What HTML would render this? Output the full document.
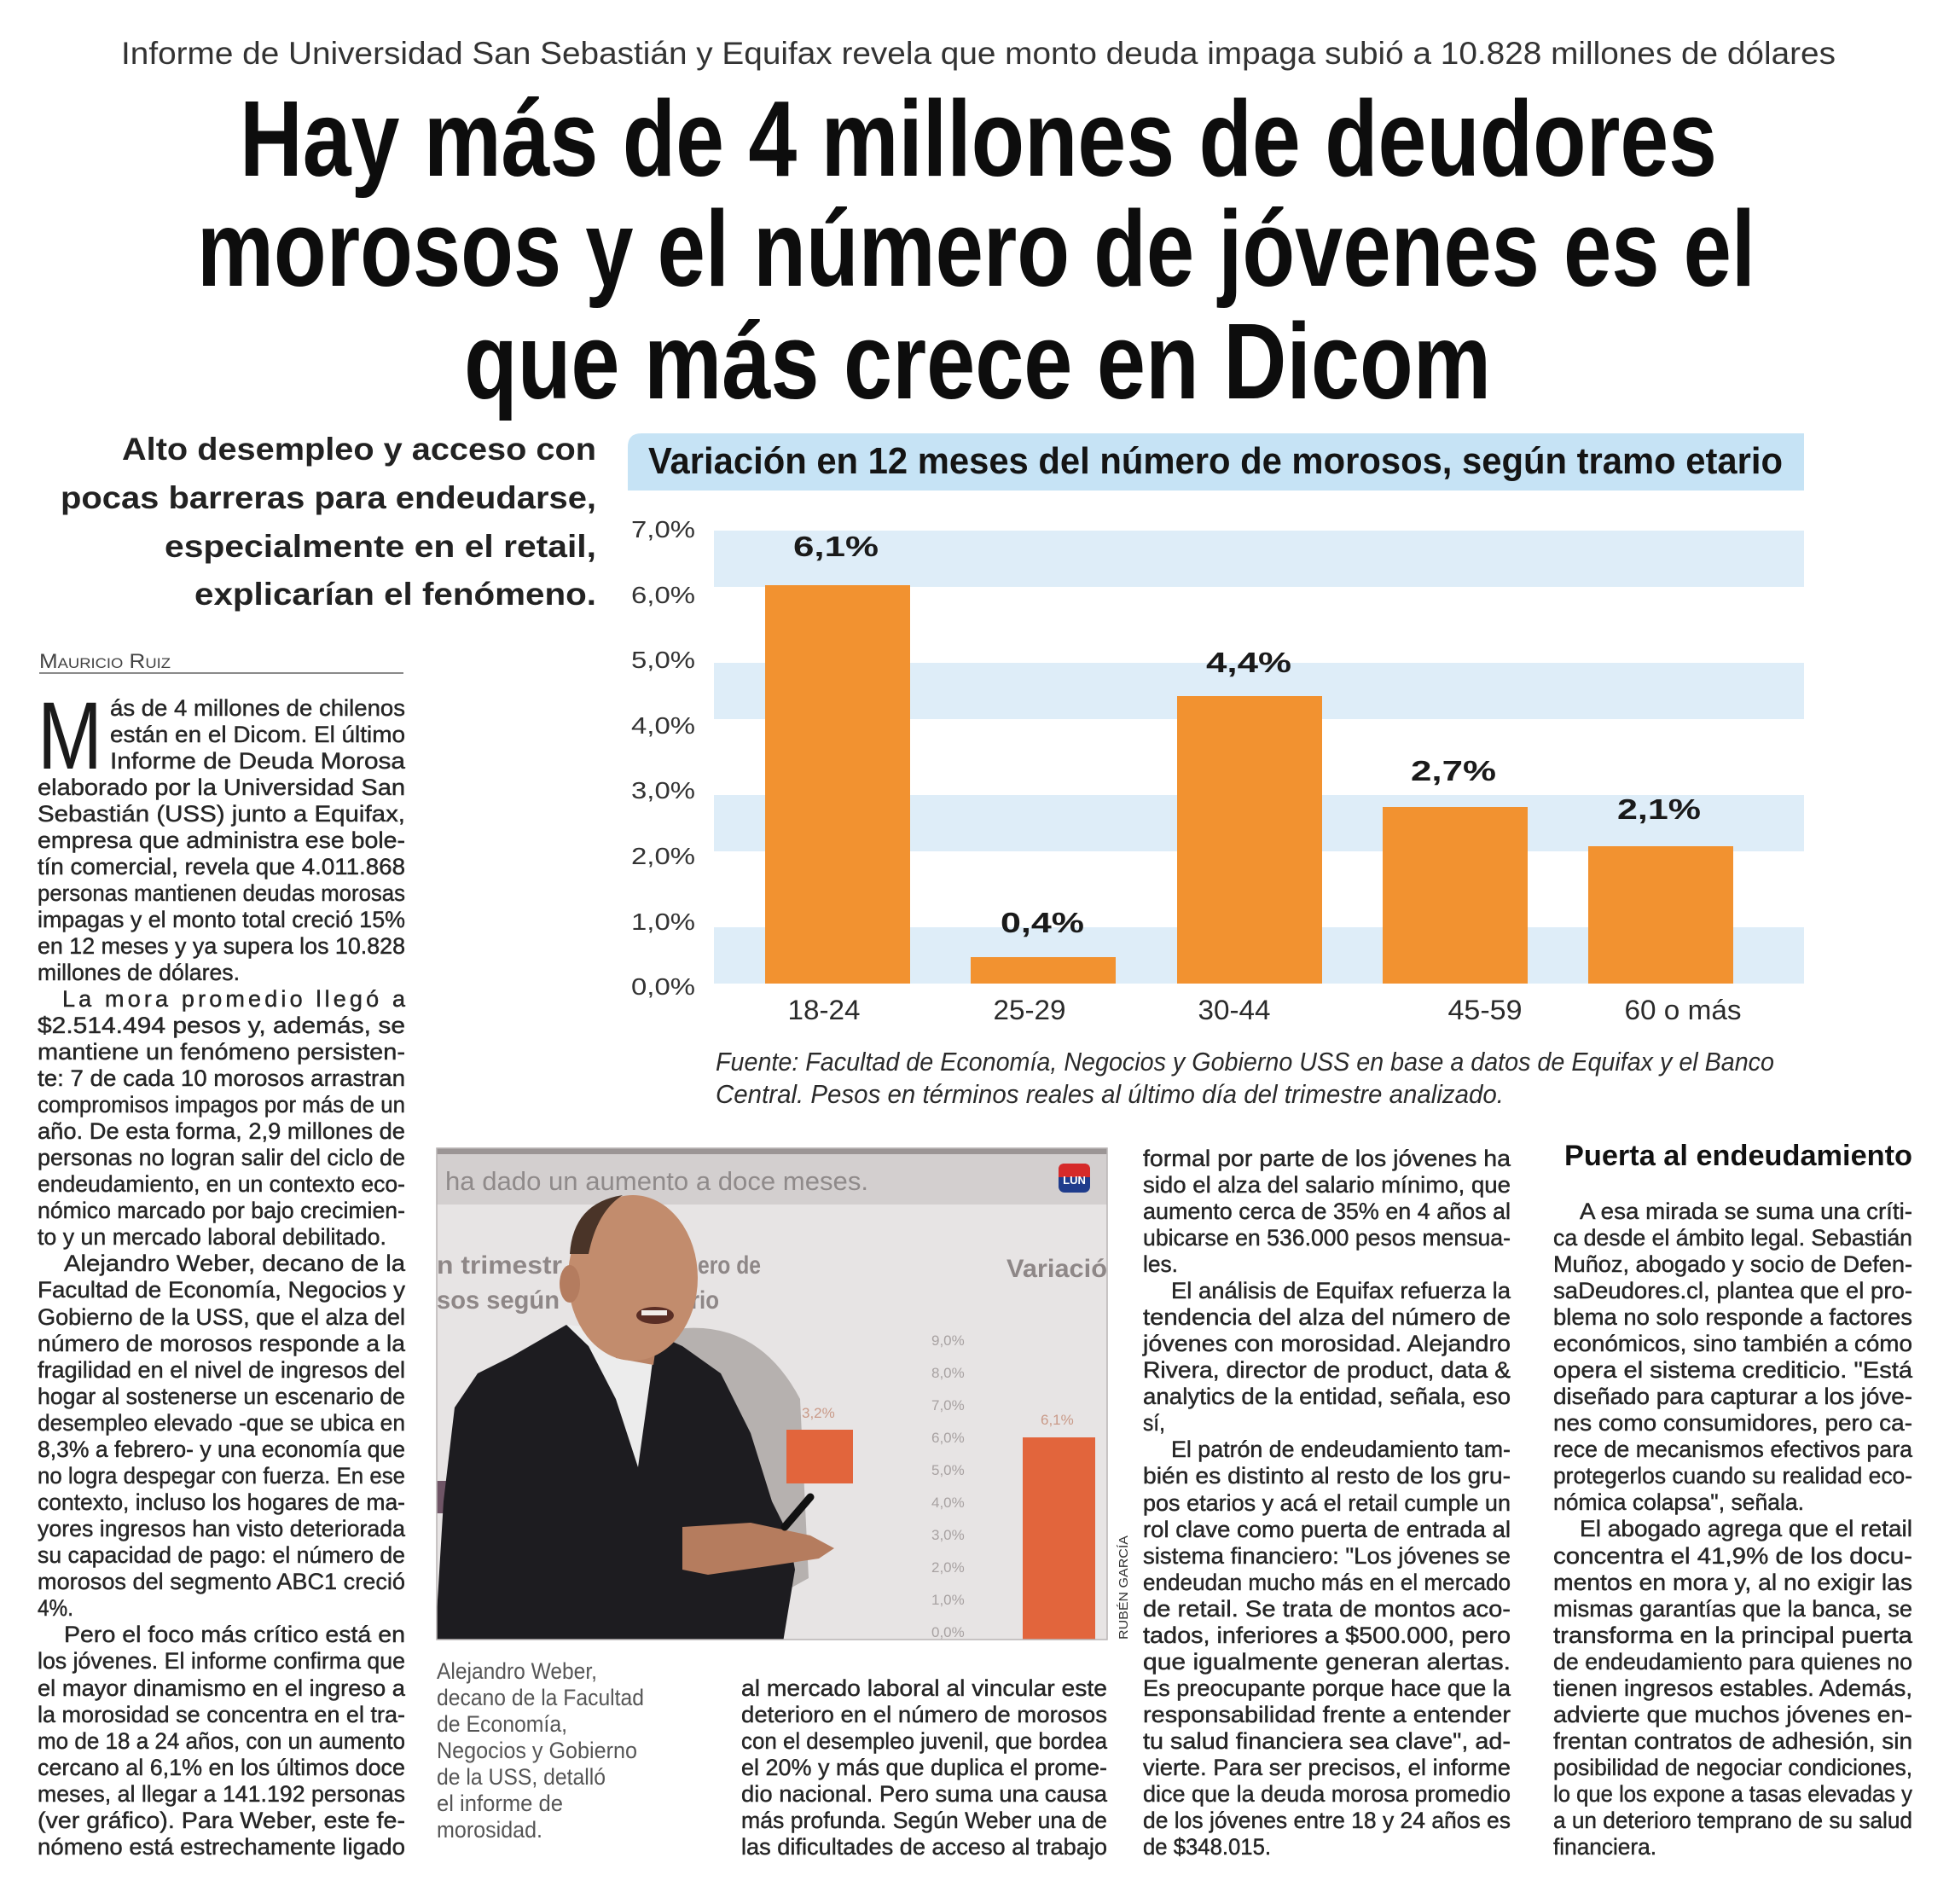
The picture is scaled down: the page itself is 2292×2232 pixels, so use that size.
<!DOCTYPE html>
<html><head><meta charset="utf-8">
<style>
html,body{margin:0;padding:0;background:#fff;}
svg{display:block;}
.t{font-family:"Liberation Sans",sans-serif;fill:#262626;stroke:#262626;stroke-width:0.45px;font-size:27px;}
.c{font-family:"Liberation Sans",sans-serif;fill:#555;font-size:27px;}
.hl{font-family:"Liberation Sans",sans-serif;font-weight:bold;fill:#0d0d0d;font-size:126px;}
.dk{font-family:"Liberation Sans",sans-serif;font-weight:bold;fill:#222;font-size:37px;}
.yl{font-family:"Liberation Sans",sans-serif;fill:#333;font-size:28px;}
.vl{font-family:"Liberation Sans",sans-serif;font-weight:bold;fill:#1a1a1a;font-size:33px;}
.cl{font-family:"Liberation Sans",sans-serif;fill:#2a2a2a;font-size:32px;}
.src{font-family:"Liberation Sans",sans-serif;font-style:italic;fill:#2a2a2a;font-size:31px;}
</style></head>
<body>
<svg width="2292" height="2232" viewBox="0 0 2292 2232" xmlns="http://www.w3.org/2000/svg">
<rect width="2292" height="2232" fill="#fff"/>

<!-- Subheadline -->
<text x="142" y="75" font-family="Liberation Sans, sans-serif" font-size="37" fill="#333" textLength="2010" lengthAdjust="spacingAndGlyphs">Informe de Universidad San Sebastián y Equifax revela que monto deuda impaga subió a 10.828 millones de dólares</text>

<!-- Headline -->
<text class="hl" x="281" y="206" textLength="1732" lengthAdjust="spacingAndGlyphs">Hay más de 4 millones de deudores</text>
<text class="hl" x="231" y="335" textLength="1827" lengthAdjust="spacingAndGlyphs">morosos y el número de jóvenes es el</text>
<text class="hl" x="544" y="467" textLength="1204" lengthAdjust="spacingAndGlyphs">que más crece en Dicom</text>

<!-- Deck -->
<text class="dk" x="143" y="539" textLength="556" lengthAdjust="spacingAndGlyphs">Alto desempleo y acceso con</text>
<text class="dk" x="71" y="596" textLength="628" lengthAdjust="spacingAndGlyphs">pocas barreras para endeudarse,</text>
<text class="dk" x="193" y="653" textLength="506" lengthAdjust="spacingAndGlyphs">especialmente en el retail,</text>
<text class="dk" x="228" y="709" textLength="471" lengthAdjust="spacingAndGlyphs">explicarían el fenómeno.</text>

<!-- Chart title bar -->
<path d="M736,575 L736,524 Q736,508 752,508 L2115,508 L2115,575 Z" fill="#c6e3f5"/>
<text x="760" y="555" font-family="Liberation Sans, sans-serif" font-weight="bold" font-size="44" fill="#141414" textLength="1330" lengthAdjust="spacingAndGlyphs">Variación en 12 meses del número de morosos, según tramo etario</text>

<!-- Bands -->
<g fill="#deedf8">
<rect x="837" y="622" width="1278" height="66"/>
<rect x="837" y="777" width="1278" height="66"/>
<rect x="837" y="932" width="1278" height="66"/>
<rect x="837" y="1087" width="1278" height="66"/>
</g>

<!-- Y labels -->
<g class="yl" text-anchor="end">
<text x="815" y="630" textLength="75" lengthAdjust="spacingAndGlyphs">7,0%</text>
<text x="815" y="707" textLength="75" lengthAdjust="spacingAndGlyphs">6,0%</text>
<text x="815" y="783" textLength="75" lengthAdjust="spacingAndGlyphs">5,0%</text>
<text x="815" y="860" textLength="75" lengthAdjust="spacingAndGlyphs">4,0%</text>
<text x="815" y="936" textLength="75" lengthAdjust="spacingAndGlyphs">3,0%</text>
<text x="815" y="1013" textLength="75" lengthAdjust="spacingAndGlyphs">2,0%</text>
<text x="815" y="1090" textLength="75" lengthAdjust="spacingAndGlyphs">1,0%</text>
<text x="815" y="1166" textLength="75" lengthAdjust="spacingAndGlyphs">0,0%</text>
</g>

<!-- Bars -->
<g fill="#f29230">
<rect x="897" y="686" width="170" height="467"/>
<rect x="1138" y="1122" width="170" height="31"/>
<rect x="1380" y="816" width="170" height="337"/>
<rect x="1621" y="946" width="170" height="207"/>
<rect x="1862" y="992" width="170" height="161"/>
</g>

<!-- Value labels -->
<g class="vl" text-anchor="middle">
<text x="980" y="652" textLength="100" lengthAdjust="spacingAndGlyphs">6,1%</text>
<text x="1222" y="1093" textLength="98" lengthAdjust="spacingAndGlyphs">0,4%</text>
<text x="1464" y="788" textLength="100" lengthAdjust="spacingAndGlyphs">4,4%</text>
<text x="1704" y="915" textLength="100" lengthAdjust="spacingAndGlyphs">2,7%</text>
<text x="1945" y="960" textLength="98" lengthAdjust="spacingAndGlyphs">2,1%</text>
</g>

<!-- Category labels -->
<g class="cl" text-anchor="middle">
<text x="966" y="1195" textLength="85" lengthAdjust="spacingAndGlyphs">18-24</text>
<text x="1207" y="1195" textLength="85" lengthAdjust="spacingAndGlyphs">25-29</text>
<text x="1447" y="1195" textLength="85" lengthAdjust="spacingAndGlyphs">30-44</text>
<text x="1741" y="1195" textLength="87" lengthAdjust="spacingAndGlyphs">45-59</text>
<text x="1973" y="1195" textLength="137" lengthAdjust="spacingAndGlyphs">60 o más</text>
</g>

<!-- Source -->
<text class="src" x="839" y="1255" textLength="1241" lengthAdjust="spacingAndGlyphs">Fuente: Facultad de Economía, Negocios y Gobierno USS en base a datos de Equifax y el Banco</text>
<text class="src" x="839" y="1293" textLength="924" lengthAdjust="spacingAndGlyphs">Central. Pesos en términos reales al último día del trimestre analizado.</text>

<!-- Byline -->
<text x="46" y="783" font-family="Liberation Sans, sans-serif" fill="#444" font-size="24" textLength="154" lengthAdjust="spacingAndGlyphs">M<tspan font-size="17">AURICIO</tspan> R<tspan font-size="17">UIZ</tspan></text>
<rect x="46" y="788" width="427" height="2" fill="#8a8a8a"/>

<!-- Drop cap -->
<text x="44" y="901" font-family="Liberation Sans, sans-serif" font-size="112" fill="#1a1a1a" textLength="76" lengthAdjust="spacingAndGlyphs">M</text>

<!-- Column 1 -->
<g class="t">
<text x="129" y="839" textLength="346" lengthAdjust="spacingAndGlyphs">ás de 4 millones de chilenos</text>
<text x="129" y="870" textLength="346" lengthAdjust="spacingAndGlyphs">están en el Dicom. El último</text>
<text x="129" y="901" textLength="346" lengthAdjust="spacingAndGlyphs">Informe de Deuda Morosa</text>
<text x="44" y="932" textLength="431" lengthAdjust="spacingAndGlyphs">elaborado por la Universidad San</text>
<text x="44" y="963" textLength="431" lengthAdjust="spacingAndGlyphs">Sebastián (USS) junto a Equifax,</text>
<text x="44" y="994" textLength="431" lengthAdjust="spacingAndGlyphs">empresa que administra ese bole-</text>
<text x="44" y="1025" textLength="431" lengthAdjust="spacingAndGlyphs">tín comercial, revela que 4.011.868</text>
<text x="44" y="1056" textLength="431" lengthAdjust="spacingAndGlyphs">personas mantienen deudas morosas</text>
<text x="44" y="1087" textLength="431" lengthAdjust="spacingAndGlyphs">impagas y el monto total creció 15%</text>
<text x="44" y="1118" textLength="431" lengthAdjust="spacingAndGlyphs">en 12 meses y ya supera los 10.828</text>
<text x="44" y="1149" textLength="237" lengthAdjust="spacingAndGlyphs">millones de dólares.</text>
<text x="73" y="1180" textLength="402" lengthAdjust="spacing">La mora promedio llegó a</text>
<text x="44" y="1211" textLength="431" lengthAdjust="spacingAndGlyphs">$2.514.494 pesos  y, además, se</text>
<text x="44" y="1242" textLength="431" lengthAdjust="spacingAndGlyphs">mantiene un fenómeno persisten-</text>
<text x="44" y="1273" textLength="431" lengthAdjust="spacingAndGlyphs">te: 7 de cada 10 morosos arrastran</text>
<text x="44" y="1304" textLength="431" lengthAdjust="spacingAndGlyphs">compromisos impagos por más de un</text>
<text x="44" y="1335" textLength="431" lengthAdjust="spacingAndGlyphs">año. De esta forma, 2,9 millones de</text>
<text x="44" y="1366" textLength="431" lengthAdjust="spacingAndGlyphs">personas no logran salir del ciclo de</text>
<text x="44" y="1397" textLength="431" lengthAdjust="spacingAndGlyphs">endeudamiento, en un contexto eco-</text>
<text x="44" y="1428" textLength="431" lengthAdjust="spacingAndGlyphs">nómico marcado por bajo crecimien-</text>
<text x="44" y="1459" textLength="409" lengthAdjust="spacingAndGlyphs">to y un mercado laboral debilitado.</text>
<text x="75" y="1490" textLength="400" lengthAdjust="spacingAndGlyphs">Alejandro Weber, decano de la</text>
<text x="44" y="1521" textLength="431" lengthAdjust="spacingAndGlyphs">Facultad de Economía, Negocios y</text>
<text x="44" y="1553" textLength="431" lengthAdjust="spacingAndGlyphs">Gobierno de la USS, que el alza del</text>
<text x="44" y="1584" textLength="431" lengthAdjust="spacingAndGlyphs">número de morosos responde a la</text>
<text x="44" y="1615" textLength="431" lengthAdjust="spacingAndGlyphs">fragilidad en el nivel de ingresos del</text>
<text x="44" y="1646" textLength="431" lengthAdjust="spacingAndGlyphs">hogar al sostenerse un escenario de</text>
<text x="44" y="1677" textLength="431" lengthAdjust="spacingAndGlyphs">desempleo elevado -que se ubica en</text>
<text x="44" y="1708" textLength="431" lengthAdjust="spacingAndGlyphs">8,3% a febrero- y una economía que</text>
<text x="44" y="1739" textLength="431" lengthAdjust="spacingAndGlyphs">no logra despegar con fuerza. En ese</text>
<text x="44" y="1770" textLength="431" lengthAdjust="spacingAndGlyphs">contexto, incluso los hogares de ma-</text>
<text x="44" y="1801" textLength="431" lengthAdjust="spacingAndGlyphs">yores ingresos han visto deteriorada</text>
<text x="44" y="1832" textLength="431" lengthAdjust="spacingAndGlyphs">su capacidad de pago: el número de</text>
<text x="44" y="1863" textLength="431" lengthAdjust="spacingAndGlyphs">morosos del segmento ABC1 creció</text>
<text x="44" y="1894" textLength="42" lengthAdjust="spacingAndGlyphs">4%.</text>
<text x="75" y="1925" textLength="400" lengthAdjust="spacingAndGlyphs">Pero el foco más crítico está en</text>
<text x="44" y="1956" textLength="431" lengthAdjust="spacingAndGlyphs">los jóvenes. El informe confirma que</text>
<text x="44" y="1988" textLength="431" lengthAdjust="spacingAndGlyphs">el mayor dinamismo en el ingreso a</text>
<text x="44" y="2019" textLength="431" lengthAdjust="spacingAndGlyphs">la morosidad se concentra en el tra-</text>
<text x="44" y="2050" textLength="431" lengthAdjust="spacingAndGlyphs">mo de 18 a 24 años, con un aumento</text>
<text x="44" y="2081" textLength="431" lengthAdjust="spacingAndGlyphs">cercano al 6,1% en los últimos doce</text>
<text x="44" y="2112" textLength="431" lengthAdjust="spacingAndGlyphs">meses, al llegar a 141.192 personas</text>
<text x="44" y="2143" textLength="431" lengthAdjust="spacingAndGlyphs">(ver gráfico). Para Weber, este fe-</text>
<text x="44" y="2174" textLength="431" lengthAdjust="spacingAndGlyphs">nómeno está estrechamente ligado</text>
</g>

<!-- Photo -->
<defs><clipPath id="pc"><rect x="512" y="1346" width="786" height="576"/></clipPath></defs>
<g clip-path="url(#pc)">
<rect x="512" y="1346" width="786" height="576" fill="#e7e4e4"/>
<rect x="512" y="1346" width="786" height="66" fill="#d3cfcf"/>
<rect x="512" y="1346" width="786" height="7" fill="#9b9595"/>
<text x="522" y="1395" font-family="Liberation Sans, sans-serif" font-size="31" fill="#8f8a8a" textLength="496" lengthAdjust="spacingAndGlyphs">ha dado un aumento a doce meses.</text>
<rect x="1241" y="1364" width="37" height="34" rx="7" fill="#1f3c8c"/>
<path d="M1241,1380 L1241,1371 Q1241,1364 1248,1364 L1271,1364 Q1278,1364 1278,1371 L1278,1380 Z" fill="#d62a2a"/>
<text x="1259.5" y="1388" text-anchor="middle" font-family="Liberation Sans, sans-serif" font-weight="bold" font-size="13" fill="#fff">LUN</text>
<g font-family="Liberation Sans, sans-serif" font-weight="bold" font-size="30" fill="#8e8787">
<text x="512" y="1493" textLength="147" lengthAdjust="spacingAndGlyphs">n trimestr</text>
<text x="818" y="1493" textLength="74" lengthAdjust="spacingAndGlyphs">ero de</text>
<text x="512" y="1534" textLength="144" lengthAdjust="spacingAndGlyphs">sos según</text>
<text x="810" y="1534" textLength="33" lengthAdjust="spacingAndGlyphs">rio</text>
<text x="1180" y="1497" textLength="118" lengthAdjust="spacingAndGlyphs">Variació</text>
</g>
<path d="M780,1560 Q885,1540 938,1640 L948,1850 L885,1885 L820,1820 Z" fill="#b6b1af"/>
<g font-family="Liberation Sans, sans-serif" font-size="17" fill="#a8a2a2">
<text x="1092" y="1577">9,0%</text><text x="1092" y="1615">8,0%</text><text x="1092" y="1653">7,0%</text>
<text x="1092" y="1691">6,0%</text><text x="1092" y="1729">5,0%</text><text x="1092" y="1767">4,0%</text>
<text x="1092" y="1805">3,0%</text><text x="1092" y="1843">2,0%</text><text x="1092" y="1881">1,0%</text>
<text x="1092" y="1919">0,0%</text>
<text x="940" y="1662" fill="#c99a88">3,2%</text>
<text x="1220" y="1670" fill="#c99a88">6,1%</text>
</g>
<rect x="922" y="1676" width="78" height="63" fill="#e2653c"/>
<rect x="1199" y="1685" width="85" height="240" fill="#e2653c"/>
<rect x="512" y="1736" width="21" height="38" fill="#6f5566"/>
<!-- man -->
<path d="M510,1925 L520,1760 L533,1650 L560,1610 L600,1590 L664,1553 L700,1560 L769,1564 L800,1578 L845,1610 L880,1680 L905,1760 L925,1800 L932,1840 L918,1925 Z" fill="#1d1c20"/>
<path d="M664,1553 L769,1564 L762,1620 L748,1720 L722,1640 L690,1578 Z" fill="#ececec"/>
<path d="M715,1570 L770,1572 L766,1600 L722,1592 Z" fill="#b98264"/>
<ellipse cx="742" cy="1498" rx="76" ry="97" fill="#c28c6d"/>
<ellipse cx="668" cy="1505" rx="12" ry="22" fill="#b47c5f"/>
<path d="M668,1470 Q672,1410 730,1401 Q700,1420 690,1470 Z" fill="#4a3428"/>
<ellipse cx="768" cy="1542" rx="22" ry="10" fill="#5a2e25"/>
<rect x="752" y="1536" width="30" height="6" fill="#f0ece8"/>
<path d="M800,1790 L880,1785 L950,1800 L978,1815 L960,1827 L900,1836 L830,1846 L800,1840 Z" fill="#b57c5e"/>
<line x1="920" y1="1790" x2="950" y2="1755" stroke="#111" stroke-width="9" stroke-linecap="round"/>
</g>
<rect x="512" y="1346" width="786" height="576" fill="none" stroke="#b8b4b4" stroke-width="1.5"/>
<text transform="translate(1322,1922) rotate(-90)" font-family="Liberation Sans, sans-serif" font-size="15" fill="#333" textLength="122" lengthAdjust="spacingAndGlyphs">RUBÉN GARCÍA</text>

<!-- Caption -->
<g class="c">
<text x="512" y="1968" textLength="188" lengthAdjust="spacingAndGlyphs">Alejandro Weber,</text>
<text x="512" y="1999" textLength="243" lengthAdjust="spacingAndGlyphs">decano de la Facultad</text>
<text x="512" y="2030" textLength="153" lengthAdjust="spacingAndGlyphs">de Economía,</text>
<text x="512" y="2061" textLength="235" lengthAdjust="spacingAndGlyphs">Negocios y Gobierno</text>
<text x="512" y="2092" textLength="198" lengthAdjust="spacingAndGlyphs">de la USS, detalló</text>
<text x="512" y="2123" textLength="148" lengthAdjust="spacingAndGlyphs">el informe de</text>
<text x="512" y="2154" textLength="124" lengthAdjust="spacingAndGlyphs">morosidad.</text>
</g>

<!-- Column 2 -->
<g class="t">
<text x="869" y="1988" textLength="429" lengthAdjust="spacingAndGlyphs">al mercado laboral al vincular este</text>
<text x="869" y="2019" textLength="429" lengthAdjust="spacingAndGlyphs">deterioro en el número de morosos</text>
<text x="869" y="2050" textLength="429" lengthAdjust="spacingAndGlyphs">con el desempleo juvenil, que bordea</text>
<text x="869" y="2081" textLength="429" lengthAdjust="spacingAndGlyphs">el 20% y más que duplica el prome-</text>
<text x="869" y="2112" textLength="429" lengthAdjust="spacingAndGlyphs">dio nacional. Pero suma una causa</text>
<text x="869" y="2143" textLength="429" lengthAdjust="spacingAndGlyphs">más profunda. Según Weber una de</text>
<text x="869" y="2174" textLength="429" lengthAdjust="spacingAndGlyphs">las dificultades de acceso al trabajo</text>
</g>

<!-- Column 3 -->
<g class="t">
<text x="1340" y="1367" textLength="431" lengthAdjust="spacingAndGlyphs">formal por parte de los jóvenes ha</text>
<text x="1340" y="1398" textLength="431" lengthAdjust="spacingAndGlyphs">sido el alza del salario mínimo, que</text>
<text x="1340" y="1429" textLength="431" lengthAdjust="spacingAndGlyphs">aumento cerca de 35% en 4 años al</text>
<text x="1340" y="1460" textLength="431" lengthAdjust="spacingAndGlyphs">ubicarse en 536.000 pesos mensua-</text>
<text x="1340" y="1491" textLength="41" lengthAdjust="spacingAndGlyphs">les.</text>
<text x="1373" y="1522" textLength="398" lengthAdjust="spacingAndGlyphs">El análisis de Equifax refuerza la</text>
<text x="1340" y="1553" textLength="431" lengthAdjust="spacingAndGlyphs">tendencia del alza del número de</text>
<text x="1340" y="1584" textLength="431" lengthAdjust="spacingAndGlyphs">jóvenes con morosidad. Alejandro</text>
<text x="1340" y="1615" textLength="431" lengthAdjust="spacingAndGlyphs">Rivera, director de product, data &amp;</text>
<text x="1340" y="1646" textLength="431" lengthAdjust="spacingAndGlyphs">analytics de la entidad, señala, eso</text>
<text x="1340" y="1677" textLength="26" lengthAdjust="spacingAndGlyphs">sí,</text>
<text x="1373" y="1708" textLength="398" lengthAdjust="spacingAndGlyphs">El patrón de endeudamiento tam-</text>
<text x="1340" y="1739" textLength="431" lengthAdjust="spacingAndGlyphs">bién es distinto al resto de los gru-</text>
<text x="1340" y="1771" textLength="431" lengthAdjust="spacingAndGlyphs">pos etarios y acá el retail cumple un</text>
<text x="1340" y="1802" textLength="431" lengthAdjust="spacingAndGlyphs">rol clave como puerta de entrada al</text>
<text x="1340" y="1833" textLength="431" lengthAdjust="spacingAndGlyphs">sistema financiero: "Los jóvenes se</text>
<text x="1340" y="1864" textLength="431" lengthAdjust="spacingAndGlyphs">endeudan mucho más en el mercado</text>
<text x="1340" y="1895" textLength="431" lengthAdjust="spacingAndGlyphs">de retail. Se trata de montos aco-</text>
<text x="1340" y="1926" textLength="431" lengthAdjust="spacingAndGlyphs">tados, inferiores a $500.000, pero</text>
<text x="1340" y="1957" textLength="431" lengthAdjust="spacingAndGlyphs">que igualmente generan alertas.</text>
<text x="1340" y="1988" textLength="431" lengthAdjust="spacingAndGlyphs">Es preocupante porque hace que la</text>
<text x="1340" y="2019" textLength="431" lengthAdjust="spacingAndGlyphs">responsabilidad frente a entender</text>
<text x="1340" y="2050" textLength="431" lengthAdjust="spacingAndGlyphs">tu salud financiera sea clave", ad-</text>
<text x="1340" y="2081" textLength="431" lengthAdjust="spacingAndGlyphs">vierte. Para ser precisos, el informe</text>
<text x="1340" y="2112" textLength="431" lengthAdjust="spacingAndGlyphs">dice que la deuda morosa promedio</text>
<text x="1340" y="2143" textLength="431" lengthAdjust="spacingAndGlyphs">de los jóvenes entre 18 y 24 años es</text>
<text x="1340" y="2174" textLength="150" lengthAdjust="spacingAndGlyphs">de $348.015.</text>
</g>

<!-- Column 4 -->
<text x="1834" y="1366" font-family="Liberation Sans, sans-serif" font-weight="bold" font-size="34" fill="#111" textLength="408" lengthAdjust="spacingAndGlyphs">Puerta al endeudamiento</text>
<g class="t">
<text x="1852" y="1429" textLength="390" lengthAdjust="spacingAndGlyphs">A esa mirada se suma una críti-</text>
<text x="1821" y="1460" textLength="421" lengthAdjust="spacingAndGlyphs">ca desde el ámbito legal. Sebastián</text>
<text x="1821" y="1491" textLength="421" lengthAdjust="spacingAndGlyphs">Muñoz, abogado y socio de Defen-</text>
<text x="1821" y="1522" textLength="421" lengthAdjust="spacingAndGlyphs">saDeudores.cl, plantea que el pro-</text>
<text x="1821" y="1553" textLength="421" lengthAdjust="spacingAndGlyphs">blema no solo responde a factores</text>
<text x="1821" y="1584" textLength="421" lengthAdjust="spacingAndGlyphs">económicos, sino también a cómo</text>
<text x="1821" y="1615" textLength="421" lengthAdjust="spacingAndGlyphs">opera el sistema crediticio. "Está</text>
<text x="1821" y="1646" textLength="421" lengthAdjust="spacingAndGlyphs">diseñado para capturar a los jóve-</text>
<text x="1821" y="1677" textLength="421" lengthAdjust="spacingAndGlyphs">nes como consumidores, pero ca-</text>
<text x="1821" y="1708" textLength="421" lengthAdjust="spacingAndGlyphs">rece de mecanismos efectivos para</text>
<text x="1821" y="1739" textLength="421" lengthAdjust="spacingAndGlyphs">protegerlos cuando su realidad eco-</text>
<text x="1821" y="1770" textLength="294" lengthAdjust="spacingAndGlyphs">nómica colapsa", señala.</text>
<text x="1852" y="1801" textLength="390" lengthAdjust="spacingAndGlyphs">El abogado agrega que el retail</text>
<text x="1821" y="1833" textLength="421" lengthAdjust="spacingAndGlyphs">concentra el 41,9% de los docu-</text>
<text x="1821" y="1864" textLength="421" lengthAdjust="spacingAndGlyphs">mentos en mora y, al no exigir las</text>
<text x="1821" y="1895" textLength="421" lengthAdjust="spacingAndGlyphs">mismas garantías que la banca, se</text>
<text x="1821" y="1926" textLength="421" lengthAdjust="spacingAndGlyphs">transforma en la principal puerta</text>
<text x="1821" y="1957" textLength="421" lengthAdjust="spacingAndGlyphs">de endeudamiento para quienes no</text>
<text x="1821" y="1988" textLength="421" lengthAdjust="spacingAndGlyphs">tienen ingresos estables. Además,</text>
<text x="1821" y="2019" textLength="421" lengthAdjust="spacingAndGlyphs">advierte que muchos jóvenes en-</text>
<text x="1821" y="2050" textLength="421" lengthAdjust="spacingAndGlyphs">frentan contratos de adhesión, sin</text>
<text x="1821" y="2081" textLength="421" lengthAdjust="spacingAndGlyphs">posibilidad de negociar condiciones,</text>
<text x="1821" y="2112" textLength="421" lengthAdjust="spacingAndGlyphs">lo que los expone a tasas elevadas y</text>
<text x="1821" y="2143" textLength="421" lengthAdjust="spacingAndGlyphs">a un deterioro temprano de su salud</text>
<text x="1821" y="2174" textLength="121" lengthAdjust="spacingAndGlyphs">financiera.</text>
</g>
</svg>
</body></html>
